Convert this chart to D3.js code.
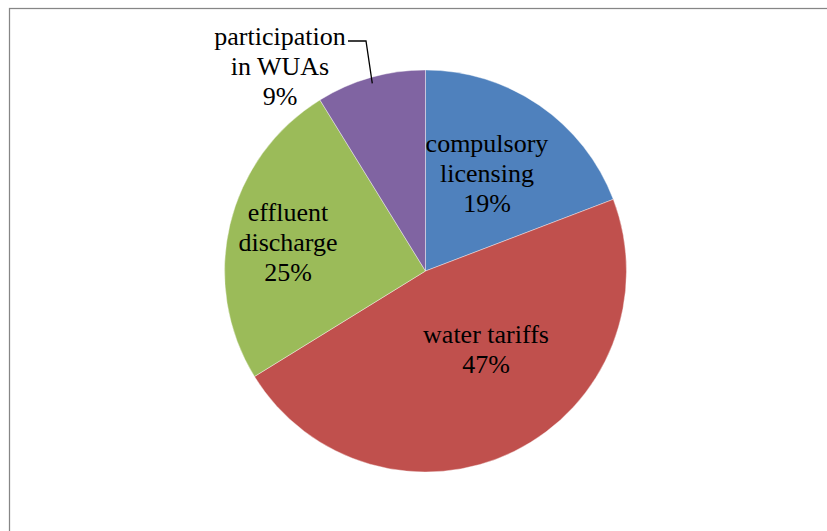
<!DOCTYPE html>
<html>
<head>
<meta charset="utf-8">
<script src="https://cdn.jsdelivr.net/npm/d3@7"></script>
<style>
  html, body { margin: 0; padding: 0; background: #fff; }
  svg { display: block; }
  svg text { font-family: 'Liberation Serif', 'Times New Roman', Times, serif; }
</style>
</head>
<body>
<svg id="chart" width="827" height="531" font-family="Liberation Serif"></svg>
<script>
// slice data, clockwise from 12 o'clock
const categories = ['compulsory licensing', 'water tariffs', 'effluent discharge', 'participation in WUAs'];
const labelLines = [['compulsory', 'licensing'], ['water tariffs'], ['effluent', 'discharge'], ['participation', 'in WUAs']];
const shares = [19.2, 47.0, 25.0, 8.8];
const colors = ['#4F81BD', '#C0504D', '#9BBB59', '#8064A2'];

// layout
const cx = 425.5, cy = 271, R = 201;
const lineH = 30;
// label anchor (first baseline) relative to pie centre, as Excel placed them
const labelOffset = [[61.5, -119], [60.5, 72], [-137.5, -50], [-145.5, -226]];

const svg = d3.select('#chart');

// chart-area frame (only left and top edges visible in the window)
svg.append('rect')
  .attr('x', 9.5).attr('y', 8.5)
  .attr('width', 1000).attr('height', 1000)
  .attr('fill', 'none')
  .attr('stroke', '#868686')
  .attr('stroke-width', 1.25);

const pie = d3.pie().sort(null).value(d => d)(shares);
const arc = d3.arc().innerRadius(0).outerRadius(R);

const g = svg.append('g').attr('transform', `translate(${cx},${cy})`);

g.selectAll('path.slice')
  .data(pie)
  .join('path')
  .attr('class', 'slice')
  .attr('d', arc)
  .attr('fill', (d, i) => colors[i])
  .attr('stroke', '#fff')
  .attr('stroke-width', 0.4);

// leader line for the outside label (participation in WUAs)
const edge = d3.arc().innerRadius(R * 0.97).outerRadius(R * 0.97).centroid(pie[3]);
const lo = labelOffset[3];
g.append('path')
  .attr('d', d3.line()([[lo[0] + 68, lo[1] - 4], [lo[0] + 86, lo[1] - 4], edge]))
  .attr('fill', 'none')
  .attr('stroke', '#000')
  .attr('stroke-width', 1.3);

// labels
g.selectAll('text.lbl')
  .data(pie)
  .join('text')
  .attr('class', 'lbl')
  .attr('text-anchor', 'middle')
  .attr('font-family', 'Liberation Serif')
  .attr('font-size', 26)
  .attr('fill', '#000')
  .each(function (d, i) {
    const lines = labelLines[i].concat([Math.round(shares[i]) + '%']);
    lines.forEach((s, k) => {
      d3.select(this).append('tspan')
        .attr('x', labelOffset[i][0])
        .attr('y', labelOffset[i][1] + k * lineH)
        .text(s);
    });
  });
</script>
</body>
</html>
